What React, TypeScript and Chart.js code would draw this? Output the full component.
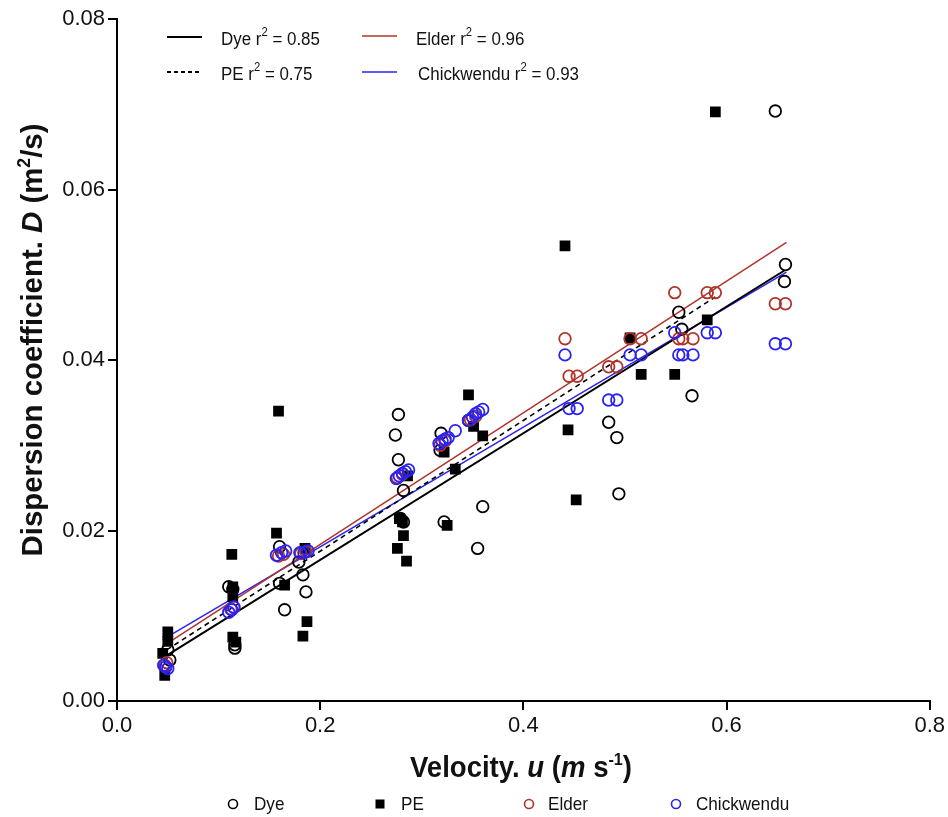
import React, { useEffect, useRef } from "react";
import { Chart, registerables } from "chart.js";

Chart.register(...registerables);

// ---- Data (velocity u in m/s, dispersion coefficient D in m^2/s) ----
const dyeU = [0.050, 0.052, 0.110, 0.114, 0.116, 0.116, 0.160, 0.160, 0.165, 0.179, 0.183, 0.186, 0.277, 0.274, 0.277, 0.282, 0.279, 0.282, 0.319, 0.318, 0.322, 0.346, 0.360, 0.355, 0.484, 0.492, 0.494, 0.553, 0.556, 0.566, 0.648, 0.658, 0.657];
const dyeD = [0.0060, 0.0048, 0.0134, 0.0131, 0.0066, 0.0062, 0.0181, 0.0138, 0.0107, 0.0163, 0.0148, 0.0128, 0.0336, 0.0312, 0.0283, 0.0247, 0.0214, 0.0210, 0.0314, 0.0294, 0.0210, 0.0329, 0.0228, 0.0179, 0.0327, 0.0309, 0.0243, 0.0456, 0.0436, 0.0358, 0.0692, 0.0512, 0.0492];

const peU = [0.045, 0.050, 0.050, 0.047, 0.113, 0.114, 0.114, 0.114, 0.117, 0.159, 0.157, 0.165, 0.185, 0.187, 0.183, 0.286, 0.278, 0.281, 0.282, 0.276, 0.285, 0.322, 0.325, 0.333, 0.346, 0.351, 0.360, 0.441, 0.444, 0.452, 0.505, 0.516, 0.549, 0.581, 0.589];
const peD = [0.0056, 0.0081, 0.0070, 0.0030, 0.0172, 0.0134, 0.0122, 0.0075, 0.0069, 0.0340, 0.0197, 0.0136, 0.0179, 0.0093, 0.0076, 0.0264, 0.0214, 0.0210, 0.0194, 0.0179, 0.0164, 0.0292, 0.0206, 0.0272, 0.0359, 0.0322, 0.0311, 0.0534, 0.0318, 0.0236, 0.0426, 0.0383, 0.0383, 0.0447, 0.0691];

const elderU = [0.047, 0.049, 0.112, 0.115, 0.159, 0.164, 0.181, 0.186, 0.276, 0.281, 0.318, 0.323, 0.348, 0.353, 0.441, 0.445, 0.453, 0.484, 0.492, 0.505, 0.516, 0.549, 0.553, 0.557, 0.567, 0.581, 0.589, 0.648, 0.658];
const elderD = [0.0042, 0.0045, 0.0108, 0.0110, 0.0170, 0.0172, 0.0173, 0.0175, 0.0262, 0.0266, 0.0300, 0.0305, 0.0330, 0.0334, 0.0425, 0.0381, 0.0381, 0.0392, 0.0392, 0.0425, 0.0425, 0.0479, 0.0425, 0.0425, 0.0425, 0.0479, 0.0479, 0.0466, 0.0466];

const chickU = [0.046, 0.048, 0.050, 0.110, 0.113, 0.115, 0.157, 0.162, 0.166, 0.180, 0.184, 0.188, 0.275, 0.278, 0.281, 0.284, 0.287, 0.317, 0.320, 0.323, 0.326, 0.333, 0.346, 0.350, 0.353, 0.356, 0.360, 0.441, 0.445, 0.453, 0.484, 0.492, 0.505, 0.516, 0.549, 0.553, 0.557, 0.567, 0.581, 0.589, 0.648, 0.658];
const chickD = [0.0042, 0.0040, 0.0038, 0.0104, 0.0107, 0.0110, 0.0171, 0.0174, 0.0176, 0.0174, 0.0174, 0.0176, 0.0261, 0.0264, 0.0267, 0.0269, 0.0271, 0.0302, 0.0305, 0.0307, 0.0309, 0.0317, 0.0329, 0.0333, 0.0337, 0.0339, 0.0342, 0.0406, 0.0343, 0.0343, 0.0353, 0.0353, 0.0406, 0.0406, 0.0432, 0.0406, 0.0406, 0.0406, 0.0432, 0.0432, 0.0419, 0.0419];

// Fitted regression lines (end points)
const dyeFitU = [0.050, 0.657];
const dyeFitD = [0.0054, 0.0505];
const peFitU = [0.049, 0.589];
const peFitD = [0.0060, 0.0474];
const elderFitU = [0.045, 0.659];
const elderFitD = [0.0064, 0.0538];
const chickFitU = [0.045, 0.659];
const chickFitD = [0.0072, 0.0503];

const seriesNames = ["Dye", "PE", "Elder", "Chickwendu"];
const r2Labels = ["0.85", "0.75", "0.96", "0.93"];

const RED = "#b0342a";
const BLUE = "#2a22f2";

const pts = (u: number[], d: number[]) => u.map((x, i) => ({ x, y: d[i] }));

type Seg = { t: string; f: string; dy?: number };

function drawSegs(ctx: CanvasRenderingContext2D, segs: Seg[], x: number, y: number, align: "left" | "center", sx = 1) {
  let w = 0;
  for (const s of segs) {
    ctx.font = s.f;
    w += ctx.measureText(s.t).width;
  }
  ctx.save();
  ctx.translate(x, y);
  ctx.scale(sx, 1);
  let cx = align === "center" ? -w / 2 : 0;
  ctx.textBaseline = "middle";
  ctx.textAlign = "left";
  for (const s of segs) {
    ctx.font = s.f;
    ctx.fillText(s.t, cx, s.dy || 0);
    cx += ctx.measureText(s.t).width;
  }
  ctx.restore();
}

const FAM = '"Liberation Sans", Arial, sans-serif';

const annotPlugin = {
  id: "annot",
  afterDraw(chart: any) {
    const ctx: CanvasRenderingContext2D = chart.ctx;
    ctx.save();
    ctx.fillStyle = "#111";

    // X title
    const B = `bold 29px ${FAM}`;
    const BI = `italic bold 29px ${FAM}`;
    const BS = `bold 17px ${FAM}`;
    drawSegs(ctx, [
      { t: "Velocity. ", f: B },
      { t: "u", f: BI },
      { t: " (", f: B },
      { t: "m", f: BI },
      { t: " s", f: B },
      { t: "-1", f: BS, dy: -9 },
      { t: ")", f: B },
    ], 521, 769, "center", 0.95);

    // Y title
    const YB = `bold 30px ${FAM}`;
    const YBI = `italic bold 30px ${FAM}`;
    const YBS = `bold 18px ${FAM}`;
    ctx.save();
    ctx.translate(34, 340);
    ctx.rotate(-Math.PI / 2);
    drawSegs(ctx, [
      { t: "Dispersion coefficient. ", f: YB },
      { t: "D", f: YBI },
      { t: " (m", f: YB },
      { t: "2", f: YBS, dy: -9 },
      { t: "/s)", f: YB },
    ], 0, 0, "center", 0.98);
    ctx.restore();

    // Top legend (fit lines)
    const L = `18px ${FAM}`;
    const LS = `12px ${FAM}`;
    const legendItems = [
      { x: 167, y: 37, color: "#000", dash: [] as number[], w: 2, tx: 221, ty: 40 },
      { x: 167, y: 72, color: "#000", dash: [4, 3], w: 2, tx: 221, ty: 75 },
      { x: 362, y: 36, color: RED, dash: [] as number[], w: 1.5, tx: 416, ty: 40 },
      { x: 362, y: 72, color: BLUE, dash: [] as number[], w: 1.5, tx: 418, ty: 75 },
    ];
    legendItems.forEach((it, i) => {
      ctx.save();
      ctx.strokeStyle = it.color;
      ctx.lineWidth = it.w;
      ctx.setLineDash(it.dash);
      ctx.beginPath();
      ctx.moveTo(it.x, it.y);
      ctx.lineTo(it.x + 35, it.y);
      ctx.stroke();
      ctx.restore();
      drawSegs(ctx, [
        { t: `${seriesNames[i]} r`, f: L },
        { t: "2", f: LS, dy: -7 },
        { t: ` = ${r2Labels[i]}`, f: L },
      ], it.tx, it.ty, "left", 0.94);
    });

    // Bottom legend (markers)
    const by = 804;
    const BL = `19px ${FAM}`;
    const bItems = [
      { mx: 233, tx: 254, color: "#000", sq: false },
      { mx: 380, tx: 401, color: "#000", sq: true },
      { mx: 529, tx: 548, color: RED, sq: false },
      { mx: 676, tx: 696, color: BLUE, sq: false },
    ];
    bItems.forEach((it, i) => {
      ctx.save();
      if (it.sq) {
        ctx.fillStyle = "#000";
        ctx.fillRect(it.mx - 4.5, by - 4.5, 9, 9);
      } else {
        ctx.strokeStyle = it.color;
        ctx.lineWidth = 1.6;
        ctx.beginPath();
        ctx.arc(it.mx, by, 4.5, 0, Math.PI * 2);
        ctx.stroke();
      }
      ctx.restore();
      ctx.fillStyle = "#111";
      drawSegs(ctx, [{ t: seriesNames[i], f: BL }], it.tx, by + 1, "left", 0.9);
    });

    ctx.restore();
  },
};

export default function App() {
  const ref = useRef<HTMLCanvasElement | null>(null);
  useEffect(() => {
    if (!ref.current) return;
    const circle = (color: string) => ({
      pointStyle: "circle" as const,
      pointRadius: 5.8,
      pointBorderWidth: 1.8,
      pointBorderColor: color,
      pointBackgroundColor: "rgba(0,0,0,0)",
      showLine: false,
    });
    const fitLine = (u: number[], d: number[], color: string, w: number, dash: number[], order: number) => ({
      type: "line" as const,
      data: pts(u, d),
      borderColor: color,
      borderWidth: w,
      borderDash: dash,
      pointRadius: 0,
      showLine: true,
      fill: false,
      order,
    });
    const chart = new Chart(ref.current, {
      type: "scatter",
      data: {
        datasets: [
          { label: "Chickwendu", data: pts(chickU, chickD), ...circle(BLUE), order: 0 } as any,
          { label: "Elder", data: pts(elderU, elderD), ...circle(RED), order: 1 } as any,
          {
            label: "PE", data: pts(peU, peD), pointStyle: "rect", pointRadius: 7.6,
            pointBackgroundColor: "#000", pointBorderColor: "#000", pointBorderWidth: 0, order: 2,
          } as any,
          { label: "Dye", data: pts(dyeU, dyeD), ...circle("#000"), order: 3 } as any,
          fitLine(dyeFitU, dyeFitD, "#000", 2, [], 4) as any,
          fitLine(peFitU, peFitD, "#000", 1.6, [5, 4], 4) as any,
          fitLine(elderFitU, elderFitD, RED, 1.5, [], 4) as any,
          fitLine(chickFitU, chickFitD, BLUE, 1.5, [], 4) as any,
        ],
      },
      options: {
        responsive: false,
        animation: false,
        layout: { padding: { top: 19, right: 16, left: 0, bottom: 0 } },
        plugins: { legend: { display: false }, tooltip: { enabled: false }, title: { display: false } },
        scales: {
          x: {
            type: "linear",
            min: 0,
            max: 0.8,
            afterFit: (s: any) => { s.height = 116; },
            ticks: {
              stepSize: 0.2,
              color: "#111",
              font: { family: FAM, size: 22 },
              padding: 3,
              callback: (v: any) => Number(v).toFixed(1),
              maxRotation: 0,
            },
            grid: { drawOnChartArea: false, drawTicks: true, tickLength: 9, color: "#000", lineWidth: 2 },
            border: { color: "#000", width: 2 },
          },
          y: {
            type: "linear",
            min: 0,
            max: 0.08,
            afterFit: (s: any) => { s.width = 117; },
            ticks: {
              stepSize: 0.02,
              color: "#111",
              font: { family: FAM, size: 22 },
              padding: 3,
              callback: (v: any) => Number(v).toFixed(2),
            },
            grid: { drawOnChartArea: false, drawTicks: true, tickLength: 9, color: "#000", lineWidth: 2 },
            border: { color: "#000", width: 2 },
          },
        },
      },
      plugins: [annotPlugin],
    });
    return () => chart.destroy();
  }, []);
  return (
    <div style={{ position: "fixed", left: 0, top: 0, width: 948, height: 817, background: "#fff" }}>
      <canvas ref={ref} width={948} height={817} style={{ width: 948, height: 817, display: "block" }} />
    </div>
  );
}
